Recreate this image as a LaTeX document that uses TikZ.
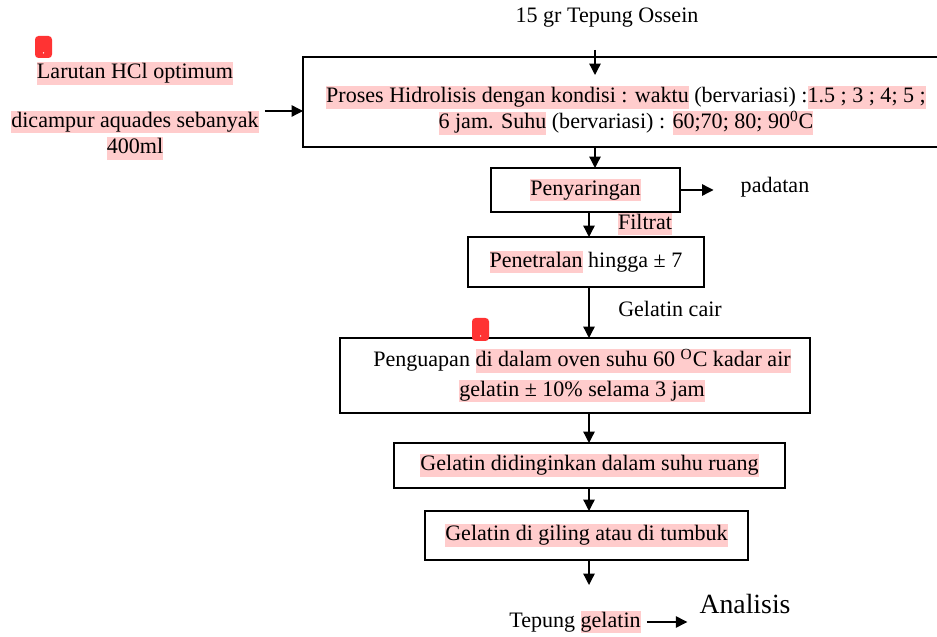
\documentclass[tikz,border=0pt]{standalone}
\usepackage{fontspec}
\setmainfont{Liberation Serif}
\usetikzlibrary{arrows.meta}
\definecolor{hlpink}{RGB}{255,204,204}
\definecolor{markred}{RGB}{255,51,51}
\newcommand{\hl}[1]{{\fboxsep=0pt\colorbox{hlpink}{\rule[-0.27em]{0pt}{1.02em}#1}}}
\begin{document}
\begin{tikzpicture}[font=\fontsize{12.55}{15}\selectfont, line join=miter,
	box/.style={draw, line width=1.1pt, minimum width=#1, outer sep=0pt},
	arr/.style={-{Triangle[length=6.5pt, width=6.5pt]}, line width=0.75pt}]
	\useasboundingbox (0, 0) rectangle (18.74, -12.74);
	
	% Bahan awal
	\node (ossein) at (12.14, -0.36) {15 gr Tepung Ossein};
	\coordinate (feed) at (11.9, -1.0);
	\coordinate (feedtip) at (11.9, -1.5);
	\coordinate (axis) at (11.78, 0);
	\coordinate (topaxis) at (11.9, 0);
	
	% Hidrolisis
	\node[box=12.92cm, minimum height=1.8cm, line width=1.6pt] (proses) at (12.52, -2.04) {};
	\node[align=center] (prosestext) at (12.52, -2.21) {\hl{Proses Hidrolisis dengan kondisi : waktu} (bervariasi) :\hl{1.5 ; 3 ; 4; 5 ;}\\
		\hl{6 jam. Suhu} (bervariasi) : \hl{60;70; 80; 90\textsuperscript{0}C}};
	\node[align=center] (hcl) at (2.7, -2.22) {\hl{Larutan HCl optimum}\\[0.45cm]
		\hl{dicampur aquades sebanyak}\\ \hl{400ml}};
	\draw[arr] (feed) -- (feedtip);
	\draw[arr] (hcl) -- (hcl -| proses.west);
	
	% Penyaringan
	\node[box=3.78cm, minimum height=0.88cm] (saring) at (11.71, -3.8) {\hl{Penyaringan}};
	\node (padatan) at (15.5, -3.74) {padatan};
	\node (filtrat) at (12.9, -4.48) {\hl{Filtrat}};
	\draw[arr] (proses.south -| topaxis) -- (saring.north -| topaxis);
	\draw[arr, shorten >=0.42cm] (saring.east) -- (saring.east -| padatan.west);
	
	% Penetralan
	\node[box=4.72cm, minimum height=1cm] (netral) at (11.72, -5.24) {\hl{Penetralan} hingga ± 7};
	\node (cair) at (13.4, -6.18) {Gelatin cair};
	\draw[arr] (saring.south -| axis) -- (netral.north -| axis);
	
	% Penguapan
	\node[box=9.4cm, minimum height=1.5cm, align=center] (uap) at (11.5, -7.51)
		{\hspace{0.28cm}Penguapan \hl{di dalam oven suhu 60 \textsuperscript{O}C kadar air}\\[0.06cm]
		\hspace{0.28cm}\hl{gelatin ± 10\% selama 3 jam}};
	\draw[arr] (netral.south -| axis) -- (uap.north -| axis);
	
	% Pendinginan dan penggilingan
	\node[box=7.82cm, minimum height=0.9cm] (dingin) at (11.79, -9.31) {\hl{Gelatin didinginkan dalam suhu ruang}};
	\node[box=6.46cm, minimum height=0.98cm] (giling) at (11.73, -10.71) {\hl{Gelatin di giling atau di tumbuk}};
	\draw[arr] (uap.south -| axis) -- (dingin.north -| axis);
	\draw[arr] (dingin.south -| axis) -- (giling.north -| axis);
	
	% Hasil
	\coordinate (endtip) at (11.78, -11.7);
	\node (tepung) at (11.5, -12.44) {Tepung \hl{gelatin}};
	\node[font=\fontsize{15.8}{18}\selectfont] (analisis) at (14.9, -12.08) {Analisis};
	\draw[arr] (giling.south -| axis) -- (endtip);
	\draw[arr, shorten >=0.12cm] (tepung.east) -- (tepung.east -| analisis.west);
	
	% Tanda komentar
	\fill[markred, rounded corners=2pt] (0.7, -0.72) rectangle (1.04, -1.16);
	\fill[white] (0.87, -1.06) circle (0.015);
	\fill[markred, rounded corners=2pt] (9.44, -6.36) rectangle (9.78, -6.82);
	\fill[white] (9.61, -6.72) circle (0.015);
\end{tikzpicture}
\end{document}
